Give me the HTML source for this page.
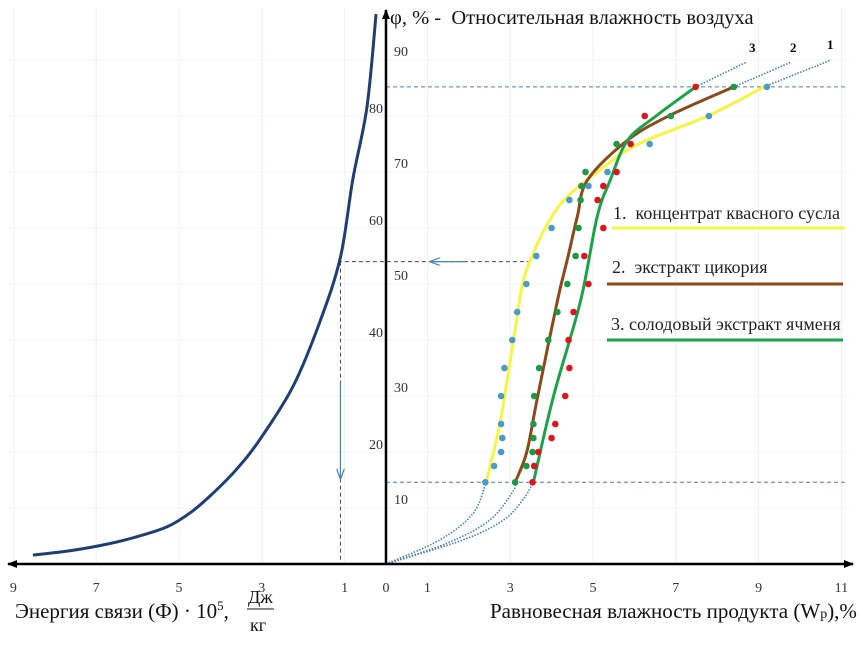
<!DOCTYPE html>
<html><head><meta charset="utf-8">
<style>
html,body{margin:0;padding:0;background:#fff;}
svg{display:block;font-family:"Liberation Serif","DejaVu Serif",serif;}
</style></head>
<body>
<svg id="chart" width="863" height="658" viewBox="0 0 863 658" xmlns="http://www.w3.org/2000/svg">
<defs>
<marker id="ah" markerWidth="10" markerHeight="8" refX="9" refY="4" orient="auto" markerUnits="userSpaceOnUse"><path d="M0,0 L10,4 L0,8 z" fill="#000"/></marker>
<marker id="ab" markerWidth="12" markerHeight="8" refX="11" refY="4" orient="auto" markerUnits="userSpaceOnUse"><path d="M0,0 L11,4 L0,8" fill="none" stroke="#4a7fb5" stroke-width="1.2"/></marker>
</defs>
<g id="grid"></g>
<g id="guides"></g>
<g id="series"></g>
<g id="axes"></g>
<g id="labels">
<text x="390" y="24" font-size="20.5" fill="#111">φ, % -&#160;&#160;Относительная влажность воздуха</text>
<text x="749" y="52" font-size="13" font-weight="bold">3</text>
<text x="790" y="52" font-size="13" font-weight="bold">2</text>
<text x="827" y="49" font-size="13" font-weight="bold">1</text>
<text x="613" y="219" font-size="18" fill="#222">1.&#160;&#160;концентрат квасного сусла</text>
<line x1="612" y1="228" x2="845" y2="228" stroke="#f5f542" stroke-width="3"/>
<text x="612" y="273" font-size="18" fill="#222">2.&#160;&#160;экстракт цикория</text>
<line x1="607" y1="284" x2="843" y2="284" stroke="#8b4a1c" stroke-width="3"/>
<text x="611" y="330" font-size="18" fill="#222">3. солодовый экстракт ячменя</text>
<line x1="607" y1="340" x2="843" y2="340" stroke="#1aa34a" stroke-width="3"/>
<text x="15" y="618" font-size="21" fill="#111">Энергия связи (Ф) · 10<tspan font-size="13" dy="-8">5</tspan><tspan dy="8">,</tspan></text>
<text x="248" y="603" font-size="18" fill="#111">Дж</text>
<line x1="247" y1="609" x2="274" y2="609" stroke="#111" stroke-width="1"/>
<text x="250" y="631" font-size="18" fill="#111">кг</text>
<text x="490" y="618" font-size="21" fill="#111">Равновесная влажность продукта (W<tspan font-size="14">p</tspan>),%</text>
</g>
</svg>
<script>
// Axis data
const xTicksRight = [1,3,5,7,9,11];
const xTicksLeft = [9,7,5,3,1];
const yTicks = [10,20,30,40,50,60,70,80,90];
// Left curve: energy Φ (×10^5 J/kg) vs φ %
const energyPhi = [0.24,0.46,0.8,1.1,1.59,2.24,3.04,3.6,4.17,4.7,5.3,6.1,6.9,7.7,8.53];
const energyRH = [98.2,81.6,68.75,54.8,43.4,31.8,22.3,17,12.7,9.3,6.6,4.7,3.3,2.3,1.6];
// Fitted curves (W %, φ %)
const curve1W = [2.42,2.75,3.08,3.3,3.53,3.85,4.3,5.1,6.1,7.77,9.13];
const curve1RH = [14.6,25,40,50,55,60,65,70,75,80,85.2];
const curve2W = [3.12,3.4,3.66,4.14,4.4,4.62,4.87,5.84,6.88,8.4];
const curve2RH = [14.6,20,29.8,47,55,62,68.6,75.7,80.2,85.2];
const curve3W = [3.56,4.04,4.7,5.1,5.42,5.84,6.56,7.48];
const curve3RH = [14.6,29.8,47,62,68.6,75.7,80.2,85.2];
// Dotted extrapolations
const ext1W = [0,1.3,2.1,2.42], ext1RH = [0,4.3,9,14.6];
const ext2W = [0,1.47,2.5,3.07,3.12], ext2RH = [0,3.7,7.8,13,14.6];
const ext3W = [0,1.86,2.83,3.3,3.56], ext3RH = [0,4.3,7.8,11.4,14.6];
const top1W = [9.13,10.75], top1RH = [85.2,90];
const top2W = [8.4,9.78], top2RH = [85.2,89.6];
const top3W = [7.48,8.7], top3RH = [85.2,89.6];
// Experimental points
const pointRH = [85.2,80,75,70,67.5,65,60,55,50,45,40,35,30,25,22.5,20,17.5,14.6];
const blueW = [9.2,7.8,6.37,5.35,4.89,4.43,4.0,3.63,3.39,3.17,3.05,2.86,2.78,2.78,2.81,2.78,2.61,2.4];
const greenW = [8.4,6.88,5.57,4.82,4.72,4.7,4.65,4.58,4.38,4.14,3.92,3.7,3.58,3.56,3.56,3.54,3.39,3.12];
const redW = [7.48,6.25,5.91,5.57,5.25,5.11,5.25,4.79,4.89,4.53,4.41,4.43,4.33,4.09,4.0,3.68,3.58,3.54];
// Guide values
const guideHigh = 85.2, guideLow = 14.6, guideRH = 54, guidePhi = 1.1, guideW = 3.5;

const X0 = 386, Y0 = 564, XS = 41.4, YS = 5.6;
const xR = w => X0 + w*XS;
const xL = e => X0 - e*XS;
const yP = p => Y0 - p*YS;
const NS = "http://www.w3.org/2000/svg";
function mk(tag, parent, attrs){
  const el = document.createElementNS(NS, tag);
  for (const k in attrs) el.setAttribute(k, attrs[k]);
  document.getElementById(parent).appendChild(el);
  return el;
}
function smooth(pts){
  let d = "M"+pts[0][0]+","+pts[0][1];
  for (let i=0;i<pts.length-1;i++){
    const p0=pts[Math.max(0,i-1)],p1=pts[i],p2=pts[i+1],p3=pts[Math.min(pts.length-1,i+2)];
    const c1=[p1[0]+(p2[0]-p0[0])/6,p1[1]+(p2[1]-p0[1])/6];
    const c2=[p2[0]-(p3[0]-p1[0])/6,p2[1]-(p3[1]-p1[1])/6];
    d+=" C"+c1[0]+","+c1[1]+" "+c2[0]+","+c2[1]+" "+p2[0]+","+p2[1];
  }
  return d;
}
for (const t of xTicksRight){
  const g = mk("line","grid",{x1:xR(t),y1:8,x2:xR(t),y2:Y0,stroke:"#eef0f3","stroke-width":1});
  
  
}
for (const t of xTicksLeft){
  const g = mk("line","grid",{x1:xL(t),y1:8,x2:xL(t),y2:Y0,stroke:"#eef0f3","stroke-width":1});
  
  
}
for (const t of yTicks){
  const g = mk("line","grid",{x1:8,y1:yP(t),x2:850,y2:yP(t),stroke:"#f1f3f5","stroke-width":1});
  
  
}
let gl = mk("line","guides",{x1:X0,y1:yP(guideHigh),x2:848,y2:yP(guideHigh),stroke:"#4a7fb5","stroke-width":1,"stroke-dasharray":"4,3"});


gl = mk("line","guides",{x1:X0,y1:yP(guideLow),x2:848,y2:yP(guideLow),stroke:"#4a7fb5","stroke-width":1,"stroke-dasharray":"4,3"});


gl = mk("line","guides",{x1:xR(guideW),y1:yP(guideRH),x2:xL(guidePhi),y2:yP(guideRH),stroke:"#3d4a66","stroke-width":1,"stroke-dasharray":"4,3"});


gl = mk("line","guides",{x1:xR(guideW*0.55),y1:yP(guideRH),x2:xR(guideW*0.3),y2:yP(guideRH),stroke:"#4a7fb5","stroke-width":1.2,"marker-end":"url(#ab)"});


gl = mk("line","guides",{x1:xL(guidePhi),y1:yP(guideRH),x2:xL(guidePhi),y2:Y0-3,stroke:"#3d4a66","stroke-width":1,"stroke-dasharray":"4,3"});


gl = mk("line","guides",{x1:xL(guidePhi),y1:yP(guideRH*0.6),x2:xL(guidePhi),y2:yP(guideRH*0.28),stroke:"#4a7fb5","stroke-width":1.2,"marker-end":"url(#ab)"});


let p = mk("path","series",{d:smooth(energyPhi.map((e,i)=>[xL(e),yP(energyRH[i])])),fill:"none",stroke:"#1f3f73","stroke-width":3});


const dots = [[ext1W,ext1RH],[ext2W,ext2RH],[ext3W,ext3RH],[top1W,top1RH],[top2W,top2RH],[top3W,top3RH]];
for (const [w,r] of dots){
  const e = mk("path","series",{d:smooth(w.map((v,i)=>[xR(v),yP(r[i])])),fill:"none",stroke:"#4a7fb5","stroke-width":1.6,"stroke-dasharray":"1.5,1.5"});
  
  
}
const curves = [[curve1W,curve1RH,"#f5f542","curve-1-kvass"],[curve2W,curve2RH,"#8b4a1c","curve-2-chicory"],[curve3W,curve3RH,"#1aa34a","curve-3-barley"]];
for (const [w,r,c,n] of curves){
  const e = mk("path","series",{d:smooth(w.map((v,i)=>[xR(v),yP(r[i])])),fill:"none",stroke:c,"stroke-width":3});
  
  
}
const pts = [[blueW,"#4a9bc9","point-kvass"],[greenW,"#1a9a45","point-chicory"],[redW,"#e0141e","point-barley"]];
for (const [w,c,n] of pts){
  w.forEach((v,i)=>{
    const e = mk("circle","series",{cx:xR(v),cy:yP(pointRH[i]),r:3.3,fill:c});
    
    
  });
}
let a = mk("line","axes",{x1:X0,y1:Y0,x2:X0,y2:10,stroke:"#000","stroke-width":2.5,"marker-end":"url(#ah)"});


a = mk("line","axes",{x1:X0,y1:Y0,x2:853,y2:Y0,stroke:"#000","stroke-width":2.5,"marker-end":"url(#ah)"});


a = mk("line","axes",{x1:X0,y1:Y0,x2:8,y2:Y0,stroke:"#000","stroke-width":2.5,"marker-end":"url(#ah)"});


function txt(x,y,s,anchor,name){
  const t = mk("text","axes",{x:x,y:y,"font-size":14,fill:"#333","text-anchor":anchor});
  t.textContent = s;
  
  
}
txt(X0,592,"0","middle","x-tick-zero");
for (const t of xTicksRight) txt(xR(t),592,String(t),"middle","x-tick-right");
for (const t of xTicksLeft) txt(xL(t),592,String(t),"middle","x-tick-left");
for (const t of yTicks){
  if ((t/10)%2===1) txt(X0+8,yP(t)-4,String(t),"start","y-tick");
  else txt(X0-3,yP(t)-3,String(t),"end","y-tick");
}
</script>
</body></html>
